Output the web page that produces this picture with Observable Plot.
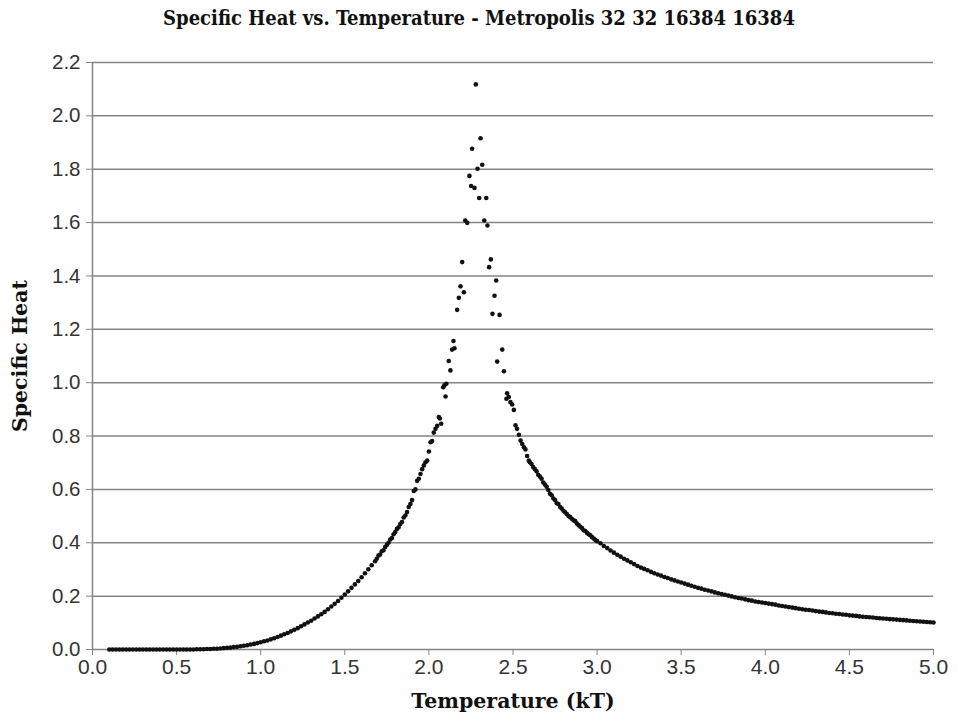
<!DOCTYPE html>
<html>
<head>
<meta charset="utf-8">
<script src="https://cdn.jsdelivr.net/npm/d3@7"></script>
<script src="https://cdn.jsdelivr.net/npm/@observablehq/plot@0.6"></script>
<style>
  html, body { margin: 0; padding: 0; background: #fff; }
  #title { height: 40px; padding-top: 7px; line-height: 22px; text-align: center; font-family: "DejaVu Serif Condensed", "DejaVu Serif", serif; font-weight: bold; font-size: 20px; color: #111; box-sizing: border-box; }
  #chart svg { display: block; }
</style>
</head>
<body>
<div id="title">Specific Heat vs. Temperature - Metropolis 32 32 16384 16384</div>
<div id="chart"></div>
<script>
// Tick values and labels
const yTicks = [0, 0.2, 0.4, 0.6, 0.8, 1.0, 1.2, 1.4, 1.6, 1.8, 2.0, 2.2];
const xTicks = [0, 0.5, 1.0, 1.5, 2.0, 2.5, 3.0, 3.5, 4.0, 4.5, 5.0];
const xLabel = "Temperature (kT)";
const yLabel = "Specific Heat";

// Low-temperature branch [T, C]
const lowBranch = [
  [0.10,0],[0.12,0],[0.14,0],[0.16,0],[0.18,0],[0.20,0],[0.22,0],[0.24,0],[0.26,0],[0.28,0],
  [0.30,0],[0.32,0],[0.34,0],[0.36,0],[0.38,0],[0.40,0],[0.42,0],[0.44,0],[0.46,0],[0.48,0],
  [0.50,0],[0.52,0],[0.54,0],[0.56,0],[0.58,0],[0.60,0],[0.62,0.001],[0.64,0.001],[0.66,0.001],[0.68,0.002],
  [0.70,0.002],[0.72,0.003],[0.74,0.003],[0.76,0.004],[0.78,0.005],[0.80,0.006],[0.82,0.007],[0.84,0.009],[0.86,0.010],[0.88,0.012],
  [0.90,0.014],[0.92,0.016],[0.94,0.019],[0.96,0.021],[0.98,0.024],[1.00,0.027],[1.02,0.031],[1.04,0.034],[1.06,0.038],[1.08,0.042],
  [1.10,0.047],[1.12,0.052],[1.14,0.057],[1.16,0.062],[1.18,0.068],[1.20,0.074],[1.22,0.080],[1.24,0.087],[1.26,0.094],[1.28,0.101],
  [1.30,0.108],[1.32,0.116],[1.34,0.124],[1.36,0.132],[1.38,0.141],[1.40,0.151],[1.42,0.161],[1.44,0.171],[1.46,0.182],[1.48,0.194],
  [1.50,0.206],[1.52,0.218],[1.54,0.231],[1.56,0.244],[1.58,0.257],[1.60,0.271],[1.62,0.286],[1.64,0.301],[1.66,0.316],[1.68,0.331]
];

// Rising flank [T, C]
const risingBranch = [
  [1.69,0.340],[1.70,0.352],[1.71,0.356],[1.72,0.368],[1.73,0.372],[1.74,0.384],[1.75,0.392],[1.76,0.400],[1.77,0.412],[1.78,0.418],
  [1.79,0.432],[1.80,0.440],[1.81,0.452],[1.82,0.458],[1.83,0.470],[1.84,0.478],[1.85,0.495],[1.86,0.502],[1.87,0.515],[1.88,0.534],
  [1.89,0.545],[1.90,0.560],[1.91,0.594],[1.92,0.600],[1.93,0.632],[1.94,0.640],[1.95,0.658],[1.96,0.676],[1.97,0.690],[1.98,0.702],
  [1.99,0.708]
];

// Peak region [T, C]
const peakBranch = [
  [2.000,0.742],[2.010,0.777],[2.019,0.781],[2.029,0.813],[2.039,0.827],[2.049,0.838],[2.059,0.871],[2.065,0.866],[2.073,0.846],[2.085,0.983],
  [2.092,0.990],[2.099,0.948],[2.104,0.996],[2.118,1.081],[2.128,1.046],[2.138,1.124],[2.146,1.156],[2.152,1.129],[2.168,1.273],[2.178,1.318],
  [2.188,1.361],[2.198,1.452],[2.208,1.339],[2.216,1.608],[2.228,1.599],[2.241,1.775],[2.251,1.737],[2.257,1.877],[2.271,1.730],[2.279,2.118],
  [2.289,1.802],[2.299,1.692],[2.307,1.916],[2.317,1.817],[2.329,1.608],[2.341,1.692],[2.348,1.589],[2.358,1.433],[2.368,1.462],[2.378,1.258],
  [2.390,1.326],[2.400,1.383],[2.406,1.079],[2.420,1.254],[2.436,1.124],[2.446,1.043],[2.461,0.940],[2.465,0.960],[2.475,0.946],[2.485,0.927],
  [2.495,0.918],[2.505,0.898],[2.515,0.840],[2.524,0.827],[2.535,0.805],[2.545,0.783],[2.555,0.770],[2.565,0.758],[2.574,0.750],[2.584,0.725],
  [2.594,0.708]
];

// Falling flank [T, C]
const fallingBranch = [
  [2.60,0.702],[2.61,0.695],[2.62,0.684],[2.63,0.676],[2.64,0.668],[2.65,0.655],[2.66,0.648],[2.67,0.640],[2.68,0.626],[2.69,0.618],
  [2.70,0.610],[2.71,0.598],[2.72,0.584],[2.73,0.578],[2.74,0.566],[2.75,0.560],[2.76,0.548],[2.77,0.545],[2.78,0.534],[2.79,0.528],
  [2.80,0.520],[2.81,0.514],[2.82,0.508],[2.83,0.500],[2.84,0.496],[2.85,0.490],[2.86,0.484],[2.87,0.481],[2.88,0.472],[2.89,0.466],
  [2.90,0.460],[2.91,0.455],[2.92,0.447],[2.93,0.444],[2.94,0.437],[2.95,0.432],[2.96,0.428],[2.97,0.421],[2.98,0.416],[2.99,0.410],
  [3.00,0.406]
];

// High-temperature tail [T, C]
const highBranch = [
  [3.02,0.398],[3.04,0.388],[3.06,0.380],[3.08,0.371],[3.10,0.363],[3.12,0.355],[3.14,0.348],[3.16,0.340],[3.18,0.334],[3.20,0.327],
  [3.22,0.320],[3.24,0.313],[3.26,0.307],[3.28,0.302],[3.30,0.297],[3.32,0.291],[3.34,0.286],[3.36,0.281],[3.38,0.277],[3.40,0.272],
  [3.42,0.268],[3.44,0.263],[3.46,0.259],[3.48,0.255],[3.50,0.251],[3.52,0.247],[3.54,0.243],[3.56,0.239],[3.58,0.235],[3.60,0.231],
  [3.62,0.228],[3.64,0.224],[3.66,0.221],[3.68,0.218],[3.70,0.214],[3.72,0.211],[3.74,0.208],[3.76,0.205],[3.78,0.202],[3.80,0.199],
  [3.82,0.196],[3.84,0.193],[3.86,0.191],[3.88,0.188],[3.90,0.185],[3.92,0.183],[3.94,0.180],[3.96,0.178],[3.98,0.176],[4.00,0.174],
  [4.02,0.172],[4.04,0.170],[4.06,0.168],[4.08,0.165],[4.10,0.163],[4.12,0.161],[4.14,0.159],[4.16,0.157],[4.18,0.155],[4.20,0.153],
  [4.22,0.151],[4.24,0.149],[4.26,0.148],[4.28,0.146],[4.30,0.144],[4.32,0.142],[4.34,0.141],[4.36,0.139],[4.38,0.137],[4.40,0.136],
  [4.42,0.134],[4.44,0.133],[4.46,0.131],[4.48,0.130],[4.50,0.128],[4.52,0.127],[4.54,0.126],[4.56,0.124],[4.58,0.123],[4.60,0.122],
  [4.62,0.121],[4.64,0.120],[4.66,0.118],[4.68,0.117],[4.70,0.116],[4.72,0.115],[4.74,0.114],[4.76,0.113],[4.78,0.112],[4.80,0.111],
  [4.82,0.110],[4.84,0.109],[4.86,0.108],[4.88,0.107],[4.90,0.106],[4.92,0.105],[4.94,0.104],[4.96,0.103],[4.98,0.102],[5.00,0.101]
];

const points = [...lowBranch, ...risingBranch, ...peakBranch, ...fallingBranch, ...highBranch]
  .map(([t, c]) => ({t, c}));

const gridColor = "#858585";
const tickFont = "'Liberation Sans', Arial, sans-serif";
const labelFont = "'DejaVu Serif', serif";

const chart = Plot.plot({
  width: 958,
  height: 683,
  marginTop: 22,
  marginLeft: 92,
  marginRight: 25,
  marginBottom: 74,
  style: { background: "#fff", color: "#222" },
  x: { domain: [0, 5], ticks: xTicks, tickFormat: d3.format(".1f"), label: null },
  y: { domain: [0, 2.2], ticks: yTicks, tickFormat: d3.format(".1f"), label: null },
  marks: [
    Plot.ruleY(yTicks, { stroke: gridColor, strokeWidth: 1.5 }),
    Plot.ruleX([0], { stroke: gridColor, strokeWidth: 1.5 }),
    Plot.axisY({ ticks: yTicks, tickSize: 6, tickPadding: 6, stroke: gridColor, fontSize: 20.5, fontFamily: tickFont, tickFormat: d3.format(".1f"), label: null, color: "#333" }),
    Plot.axisX({ ticks: xTicks, tickSize: 6, tickPadding: 4, stroke: gridColor, fontSize: 21, fontFamily: tickFont, tickFormat: d3.format(".1f"), label: null, color: "#333" }),
    Plot.dot(points, { x: "t", y: "c", r: 2.3, fill: "#111", stroke: null }),
    Plot.text([xLabel], { frameAnchor: "bottom", dy: 58, fontFamily: labelFont, fontWeight: "bold", fontSize: 20.5, fill: "#111" }),
    Plot.text([yLabel], { frameAnchor: "left", textAnchor: "middle", dx: -72, rotate: -90, fontFamily: labelFont, fontWeight: "bold", fontSize: 20.5, fill: "#111" })
  ]
});
document.getElementById("chart").appendChild(chart);
</script>
</body>
</html>
